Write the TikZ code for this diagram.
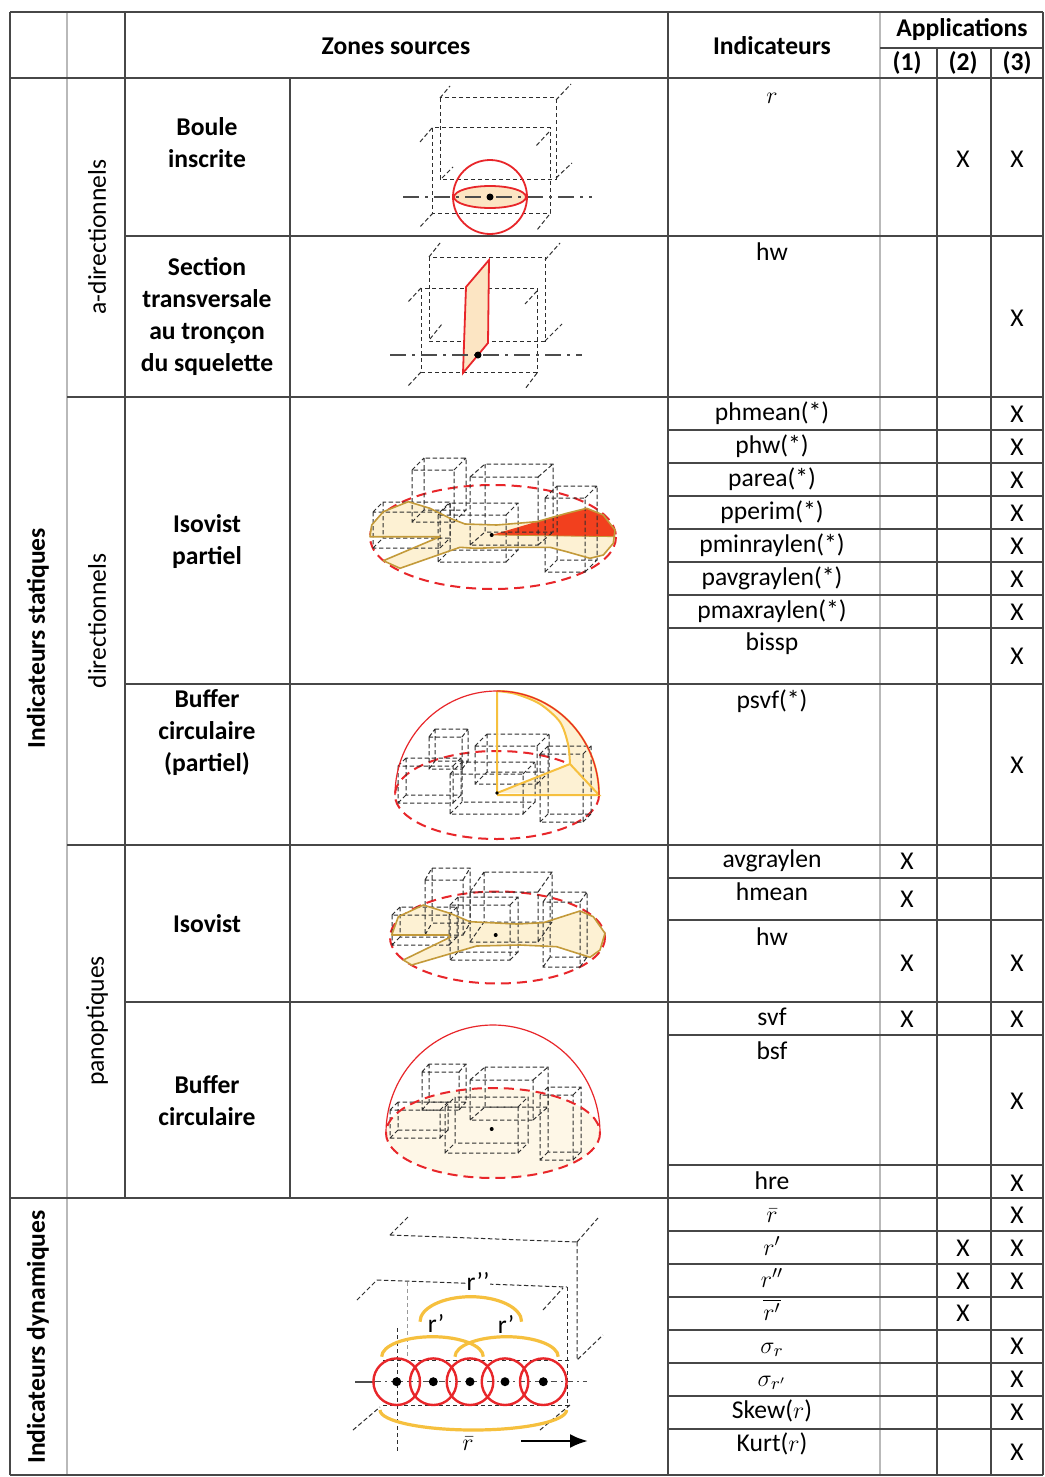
\documentclass[tikz,border=0pt]{standalone}
\usepackage{fontspec}
\setmainfont{Carlito}
\usetikzlibrary{arrows.meta}
\definecolor{redl}{HTML}{E8262A}
\definecolor{cream}{HTML}{FCE5C3}
\definecolor{isof}{HTML}{FDF1D3}
\definecolor{gold}{HTML}{C39A3A}
\definecolor{orng}{HTML}{F6C03E}
\definecolor{redf}{HTML}{F2401E}
\newcommand{\wbox}[6]{\draw[wire] (#1,#2) rectangle ++(#3,#4) (#1+#5,#2+#6) rectangle ++(#3,#4) (#1,#2) -- ++(#5,#6) (#1+#3,#2) -- ++(#5,#6) (#1,#2+#4) -- ++(#5,#6) (#1+#3,#2+#4) -- ++(#5,#6);}
\begin{document}
\begin{tikzpicture}[x=0.5pt,y=-0.5pt,
  font=\fontsize{12.8}{16}\selectfont,
  gline/.style={draw=black!72,line width=0.7pt},
  lline/.style={draw=gray!55,line width=1.4pt},
  wire/.style={draw=black!82,line width=0.5pt,dash pattern=on 2.2pt off 1.3pt},
  axisl/.style={draw=black!70,line width=1.3pt,dash pattern=on 8pt off 3pt on 1.5pt off 3pt},
  redd/.style={draw=redl,line width=1pt,dash pattern=on 5pt off 3pt},
  ind/.style={inner sep=0pt,text height=9pt,text depth=3pt},
  xm/.style={inner sep=0pt},
  hd/.style={inner sep=0pt,font=\fontsize{12.8}{16}\selectfont\bfseries,align=center},
  lab/.style={inner sep=0pt,align=center}]
\useasboundingbox (0,0) rectangle (1044,1477);
\fill[white] (0,0) rectangle (1044,1477);

% ---------- grid ----------
\draw[lline] (67,12) -- (67,1475);
\draw[lline] (880,12) -- (880,1475);
\draw[gline] (10,12) -- (1043,12) (10,78) -- (1043,78) (10,1198) -- (1043,1198) (10,1475) -- (1043,1475);
\draw[gline] (880,48) -- (1043,48);
\draw[gline] (10,12) -- (10,1475) (1043,12) -- (1043,1475) (668,12) -- (668,1475);
\draw[gline] (125,12) -- (125,1198) (290,78) -- (290,1198);
\draw[gline] (937,48) -- (937,1475) (991,48) -- (991,1475);
\draw[gline] (125,236) -- (1043,236) (67,397) -- (1043,397) (125,684) -- (1043,684)
  (67,845) -- (1043,845) (125,1002) -- (1043,1002);
\foreach \yy in {430,463,496,529,562,595,628,878,920,1035,1165,1231,1264,1297,1330,1363,1396,1429}
  \draw[gline] (668,\yy) -- (1043,\yy);

% ---------- headers ----------
\node[hd] (hz) at (396,46) {Zones sources};
\node[hd] (hi) at (772,46) {Indicateurs};
\node[hd] (ha) at (962,30) {Applications};
\node[hd] (h1) at (907,63) {(1)};
\node[hd] (h2) at (963,63) {(2)};
\node[hd] (h3) at (1017,63) {(3)};

\node[hd,rotate=90] (cs) at (38,638) {Indicateurs statiques};
\node[hd,rotate=90] (cd) at (38,1337) {Indicateurs dynamiques};
\node[lab,rotate=90] (ca) at (97,237) {a-directionnels};
\node[lab,rotate=90] (cdi) at (97,621) {directionnels};
\node[lab,rotate=90] (cp) at (97,1021) {panoptiques};

\node[hd] (n1) at (207,143) {Boule\\inscrite};
\node[hd] (n2) at (207,317) {Section\\transversale\\au tronçon\\du squelette};
\node[hd] (n3) at (207,542) {Isovist\\partiel};
\node[hd] (n4) at (207,733) {Buffer\\circulaire\\(partiel)};
\node[hd] (n5) at (207,924) {Isovist};
\node[hd] (n6) at (207,1101) {Buffer\\circulaire};

% ---------- indicators ----------
\node[ind] (i1) at (772,98) {$r$};
\node[ind] (i2) at (772,254) {hw};
\node[ind] (i3) at (772,414) {phmean(*)};
\node[ind] (i4) at (772,447) {phw(*)};
\node[ind] (i5) at (772,480) {parea(*)};
\node[ind] (i6) at (772,513) {pperim(*)};
\node[ind] (i7) at (772,546) {pminraylen(*)};
\node[ind] (i8) at (772,579) {pavgraylen(*)};
\node[ind] (i9) at (772,612) {pmaxraylen(*)};
\node[ind] (i10) at (772,644) {bissp};
\node[ind] (i11) at (772,702) {psvf(*)};
\node[ind] (i12) at (772,861) {avgraylen};
\node[ind] (i13) at (772,894) {hmean};
\node[ind] (i14) at (772,939) {hw};
\node[ind] (i15) at (772,1019) {svf};
\node[ind] (i16) at (772,1053) {bsf};
\node[ind] (i17) at (772,1183) {hre};
\node[ind] (i18) at (772,1216) {$\bar{r}$};
\node[ind] (i19) at (772,1249) {$r'$};
\node[ind] (i20) at (772,1281) {$r''$};
\node[ind] (i21) at (772,1314) {$\overline{r'}$};
\node[ind] (i22) at (772,1347) {$\sigma_r$};
\node[ind] (i23) at (772,1380) {$\sigma_{r'}$};
\node[ind] (i24) at (772,1412) {Skew($r$)};
\node[ind] (i25) at (772,1445) {Kurt($r$)};

\foreach \cx/\cy [count=\k] in {963/159,1017/159,1017/318,1017/414,1017/447,1017/480,1017/513,1017/546,1017/579,1017/612,1017/656,1017/765,907/861,907/899,907/963,1017/963,907/1019,1017/1019,1017/1101,1017/1183,1017/1215,963/1248,1017/1248,963/1281,1017/1281,963/1313,1017/1346,1017/1379,1017/1412,1017/1452}
  \node[xm] (x\k) at (\cx,\cy) {X};

% ---------- fig 1 : boule inscrite ----------
\draw[wire] (440,98) rectangle (556,179);
\draw[wire] (440,98) -- (450,86) (556,100) -- (571,84) (442,178) -- (453,167) (556,178) -- (572,163);
\draw[wire] (432,128) rectangle (550,213);
\draw[wire] (432,128) -- (420,142) (549,132) -- (536,146) (433,213) -- (419,228) (549,215) -- (537,230);
\filldraw[fill=cream,draw=redl,line width=0.9pt] (490,197) ellipse[x radius=36,y radius=11];
\draw[axisl] (403,197) -- (592,197);
\draw[redl,line width=0.9pt] (490,197) circle[radius=37];
\fill (490,197) circle[radius=3.5];

% ---------- fig 2 : section ----------
\draw[wire] (429,257) rectangle (545,341);
\draw[wire] (429,257) -- (440,243) (545,260) -- (560,243) (430,339) -- (442,324) (545,341) -- (562,324);
\draw[wire] (421,288) rectangle (537,372);
\draw[wire] (421,288) -- (408,302) (537,291) -- (525,304) (421,372) -- (408,386) (537,373) -- (525,389);
\filldraw[fill=cream,draw=redl,line width=0.9pt] (466,287) -- (489,260) -- (488,343) -- (463,373) -- cycle;
\draw[axisl] (390,355) -- (582,355);
\fill (478,355) circle[radius=3.5];

% ---------- fig 3 : isovist partiel ----------
\draw[redd] (493,537) ellipse[x radius=123,y radius=52];
\fill[isof] (370,536.7) -- (371.7,525) -- (383.3,511.7) -- (408.3,501.7) -- (430,508.3) -- (450,518.3) -- (465,524) -- (496.7,525) -- (536.7,521.7) -- (566.7,513.3) -- (586.7,508.3) -- (603.3,515) -- (615,530) -- (613.3,543.3) -- (603.3,555) -- (590,558.3) -- (566.7,551.7) -- (550,547.3) -- (506.7,547.3) -- (475,548.3) -- (460,547.3) -- (400,568.3) -- (383.3,560.7) -- (440,536.7) -- cycle;
\fill[redf] (491.7,535) -- (536.7,521.7) -- (566.7,513.3) -- (586.7,508.3) -- (603.3,515) -- (615,530) -- (615,536.7) -- cycle;
\wbox{412}{470}{42}{52}{12}{-12}
\wbox{470}{477}{68}{68}{15}{-13}
\wbox{545}{498}{40}{74}{12}{-12}
\wbox{438}{515}{68}{47}{12}{-12}
\wbox{373}{512}{67}{36}{10}{-10}
\draw[gold,line width=0.8pt,line join=round] (370,536.7) -- (371.7,525) -- (383.3,511.7) -- (408.3,501.7) -- (430,508.3) -- (450,518.3) -- (465,524) -- (496.7,525) -- (536.7,521.7) -- (566.7,513.3) -- (586.7,508.3) -- (603.3,515) -- (615,530) -- (613.3,543.3) -- (603.3,555) -- (590,558.3) -- (566.7,551.7) -- (550,547.3) -- (506.7,547.3) -- (475,548.3) -- (460,547.3) -- (400,568.3) -- (383.3,560.7) -- (440,536.7) -- cycle;
\draw[gold,line width=0.4pt] (491.7,535) -- (615,536.7);
\fill (491.7,535) circle[radius=2];

% ---------- fig 4 : buffer circulaire partiel ----------
\draw[redd] (497,795) ellipse[x radius=102,y radius=44];
\fill[isof] (497,691) arc[start angle=270,end angle=360,x radius=102,y radius=104] -- (570,764) -- plot[smooth] coordinates {(570,764) (568,744) (560,722) (540,704) (516,694) (497,691)} -- cycle;
\fill[isof] (497,793) -- (570,764) -- (599,795) -- cycle;
\wbox{429}{737}{33}{32}{6}{-8}
\wbox{475}{746}{62}{38}{12}{-12}
\wbox{398}{766}{55}{37}{8}{-8}
\wbox{450}{774}{73}{40}{12}{-12}
\wbox{540}{754}{43}{68}{8}{-8}
\draw[orng,line width=1pt] (497,691) arc[start angle=270,end angle=360,x radius=102,y radius=104];
\draw[orng,line width=1pt] plot[smooth] coordinates {(570,764) (568,744) (560,722) (540,704) (516,694) (497,691)};
\draw[orng,line width=1pt] (497,691) -- (497,793) -- (570,764) -- (599,795) -- (497,795);
\draw[redl,line width=0.6pt] (395,795) arc[start angle=180,end angle=360,x radius=102,y radius=104];
\fill (497,793) circle[radius=1.8];

% ---------- fig 5 : isovist ----------
\draw[redd] (497.5,937.5) ellipse[x radius=107.5,y radius=46];
\fill[isof] (391.7,935) -- (398.3,916.7) -- (423.3,905) -- (450,913.3) -- (470,921.7) -- (516.7,924) -- (543.3,922.7) -- (580,911) -- (593.3,916.7) -- (605,933.3) -- (600,950) -- (590,957.3) -- (556.7,946.7) -- (520,945) -- (476.7,946) -- (411.7,965) -- (403.3,960) -- (450,937.3) -- (448.3,935) -- cycle;
\wbox{425}{880}{38}{55}{7}{-12}
\wbox{470}{892}{68}{50}{14}{-20}
\wbox{543}{902}{37}{65}{7}{-10}
\wbox{392}{915}{57}{30}{8}{-8}
\wbox{450}{905}{60}{55}{8}{-8}
\draw[gold,line width=0.8pt,line join=round] (391.7,935) -- (398.3,916.7) -- (423.3,905) -- (450,913.3) -- (470,921.7) -- (516.7,924) -- (543.3,922.7) -- (580,911) -- (593.3,916.7) -- (605,933.3) -- (600,950) -- (590,957.3) -- (556.7,946.7) -- (520,945) -- (476.7,946) -- (411.7,965) -- (403.3,960) -- (450,937.3) -- (448.3,935) -- cycle;
\fill (495.7,935) circle[radius=2];

% ---------- fig 6 : buffer circulaire ----------
\fill[isof!55] (493,1133) ellipse[x radius=107,y radius=45];
\wbox{422}{1072}{37}{38}{7}{-8}
\wbox{470}{1080}{63}{40}{15}{-13}
\wbox{540}{1095}{33}{65}{8}{-8}
\wbox{390}{1110}{50}{28}{8}{-8}
\wbox{445}{1107}{73}{46}{10}{-10}
\draw[redd] (493,1133) ellipse[x radius=107,y radius=45];
\draw[redl,line width=0.6pt] (386,1133) arc[start angle=180,end angle=360,x radius=107,y radius=108];
\fill (491.7,1129) circle[radius=2];

% ---------- fig 7 : dynamiques ----------
\draw[wire] (390,1235) -- (577,1242) (390,1235) -- (408,1217) (577,1242) -- (598,1218);
\draw[wire] (577,1242) -- (577,1360) -- (603,1335);
\draw[wire] (377,1280) -- (567,1287) (357,1300) -- (377,1280) (543,1310) -- (563,1288);
\draw[wire,draw=black!40] (407,1282) -- (407,1358);
\draw[wire] (567,1287) -- (567,1407);
\draw[wire] (383,1360) -- (570,1360) (383,1405) -- (570,1405);
\draw[wire] (353,1430) -- (380,1407) (540,1430) -- (570,1405);
\draw[wire] (397,1328) -- (397,1452);
\draw[orng,line width=1.6pt] (420,1321.7) arc[start angle=180,end angle=360,x radius=50.8,y radius=25];
\draw[orng,line width=1.6pt] (381.7,1356.7) arc[start angle=180,end angle=360,x radius=50.8,y radius=20];
\draw[orng,line width=1.6pt] (455,1356.7) arc[start angle=180,end angle=360,x radius=51.6,y radius=20];
\draw[orng,line width=1.6pt] (380,1410) arc[start angle=180,end angle=0,x radius=93.3,y radius=20];
\draw[black!70,line width=1.2pt] (355,1381.7) -- (375,1381.7);
\draw[black!70,line width=0.5pt,dash pattern=on 3pt off 2pt on 1pt off 2pt] (375,1381.7) -- (587,1381.7);
\foreach \cx [count=\k] in {396.7,433.3,470,505,543.3} {
  \draw[redl,line width=1.2pt] (\cx,1381.7) circle[radius=23.3];
  \fill (\cx,1381.7) circle[radius=4.5];
}
\node[lab] (f1) at (436,1323) {r’};
\node[lab] (f2) at (506,1324) {r’};
\node[lab,fill=white,inner sep=0.5pt] (f3) at (478,1281) {r’’};
\node[lab] (f4) at (468,1444) {$\bar{r}$};
\coordinate (a1) at (521,1441);
\coordinate (a2) at (588,1441);
\draw[-{Latex[length=9pt,width=7pt]},line width=1.3pt] (a1) -- (a2);
\end{tikzpicture}
\end{document}
